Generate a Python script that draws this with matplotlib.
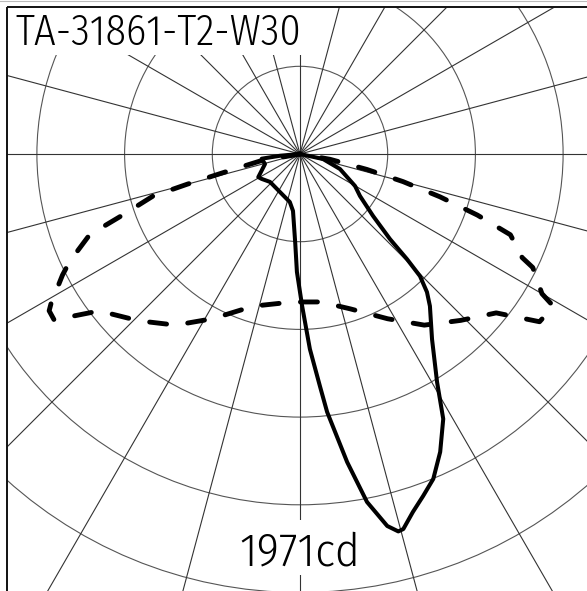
import numpy as np
import matplotlib.pyplot as plt
from matplotlib.patches import Rectangle, Circle

# 光度数据：gamma 角（度，0 = 正下方，正值向右）与光强（cd）
gamma_c90 = [-90, -85, -83, -74, -61, -57, -47, -28, -12, -7, -3, -1.5, 0.8, 2.9, 4.9, 6.0,
             8.7, 10.9, 13.2, 14.6, 15.4, 17.5, 19.8, 22.3, 25.2, 28.4, 31.0, 35.5, 40.5,
             42.6, 44.5, 45.5, 46.6, 49.7, 55, 59.8, 69.4, 77.7, 90]
cd_c90 = [0, 101, 195, 184, 241, 231, 207, 217, 248, 290, 455, 596, 768, 987, 1177, 1311,
          1575, 1791, 1931, 1971, 1966, 1897, 1837, 1775, 1664, 1522, 1345, 1149, 1011,
          948, 865, 758, 626, 484, 370, 322, 216, 119, 0]

gamma_c0 = [-90, -80, -77, -75, -74, -71, -69, -65, -63, -59, -58, -56, -52, -44, -36, -28,
            -17, -3, 8, 18, 28, 36, 44, 51, 55, 59, 60, 64, 65, 69, 71, 73, 75, 77, 80, 90]
cd_c0 = [0, 205, 347, 591, 774, 948, 1139, 1284, 1347, 1468, 1495, 1499, 1288, 1172, 1069,
         943, 804, 749, 755, 823, 943, 1069, 1169, 1276, 1478, 1494, 1412, 1309, 1239, 1139,
         948, 739, 539, 347, 154, 0]

title = 'TA-31861-T2-W30'
max_label = '1971cd'

# 版面（像素）
W, H = 587, 591
cx, cy = 300, 154
px_per_cd = 390 / 1971
ring_px = 87.7
font = ['Fira Sans Condensed', 'DejaVu Sans']

fig = plt.figure(figsize=(W / 100, H / 100), dpi=100)
ax = fig.add_axes([0, 0, 1, 1])
ax.set_xlim(0, W)
ax.set_ylim(H, 0)
ax.axis('off')

ax.axhline(0.5, color='#bbbbbb', lw=0.8, zorder=6)
frame = Rectangle((6.5, 6.5), 700, 700, fill=False, edgecolor='#111111', lw=1.4, zorder=6)
ax.add_patch(frame)
clip = Rectangle((6.5, 6.5), 700, 700, transform=ax.transData)

# 网格：同心圆 + 每 15° 的射线
for k in range(1, 9):
    c = Circle((cx, cy), k * ring_px, fill=False, edgecolor='#555555', lw=0.8, zorder=1)
    ax.add_patch(c)
    c.set_clip_path(clip)
for a in np.arange(0, 360, 15):
    t = np.radians(a)
    ln, = ax.plot([cx, cx + 1000 * np.sin(t)], [cy, cy + 1000 * np.cos(t)],
                  color='#333333', lw=0.8, zorder=1)
    ln.set_clip_path(clip)


def to_xy(g, i):
    g = np.radians(np.array(g, dtype=float))
    r = np.array(i, dtype=float) * px_per_cd
    return cx + r * np.sin(g), cy + r * np.cos(g)


x0, y0 = to_xy(gamma_c0, cd_c0)
ax.plot(x0, y0, color='black', lw=3.5, ls=(0, (3.5, 4.4)), dash_capstyle='round', zorder=3)
x1, y1 = to_xy(gamma_c90, cd_c90)
ax.plot(x1, y1, color='black', lw=2.9, solid_joinstyle='round', zorder=4)

# 文字背景的白底
ax.add_patch(Rectangle((7, 7), 303, 48, facecolor='white', edgecolor='none', zorder=5))
ax.add_patch(Rectangle((234, 520), 131, 55, facecolor='white', edgecolor='none', zorder=5))

ax.text(15, 45, title, fontsize=30.5, family=font, weight=300, va='baseline',
        ha='left', zorder=6)
ax.text(cx, 565, max_label, fontsize=34, family=font, weight=300, va='baseline',
        ha='center', zorder=6)

fig.savefig('out.png', dpi=100, facecolor='white')
